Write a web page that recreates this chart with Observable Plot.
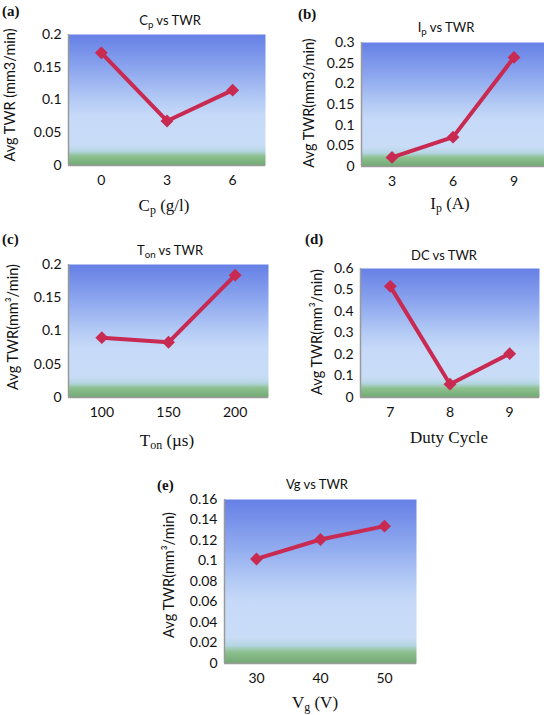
<!DOCTYPE html>
<html>
<head>
<meta charset="utf-8">
<script src="https://cdn.jsdelivr.net/npm/d3@7"></script>
<script src="https://cdn.jsdelivr.net/npm/@observablehq/plot@0.6"></script>
<style>
  html, body { margin: 0; padding: 0; background: #fff; }
  #page { position: relative; width: 544px; height: 715px; overflow: hidden; }
  .panel { position: absolute; }
  .txt { position: absolute; white-space: nowrap; transform: translate(-50%, -50%); color: #111; line-height: 1; }
  .sans { font-family: Lato, "Open Sans", sans-serif; }
  .serif { font-family: "Liberation Serif", "DejaVu Serif", serif; }
  .title { font-size: 13px; }
  .ylab { font-size: 14.5px; transform: translate(-50%, -50%) rotate(-90deg); }
  .xlab { font-size: 17px; }
  .letter { font-size: 15px; font-weight: bold; transform: none; }
  sub { font-size: 0.7em; vertical-align: -0.3em; line-height: 0; }
  .sans sub { font-size: 0.75em; vertical-align: -0.35em; }
</style>
</head>
<body>
<div id="page"></div>
<script>
// ---------- data ----------
const cpCats = ["0", "3", "6"];
const cpVals = [0.172, 0.068, 0.115];
const cpTicks = [0, 0.05, 0.1, 0.15, 0.2];

const ipCats = ["3", "6", "9"];
const ipVals = [0.022, 0.071, 0.264];
const ipTicks = [0, 0.05, 0.1, 0.15, 0.2, 0.25, 0.3];

const tonCats = ["100", "150", "200"];
const tonVals = [0.090, 0.083, 0.184];
const tonTicks = [0, 0.05, 0.1, 0.15, 0.2];

const dcCats = ["7", "8", "9"];
const dcVals = [0.517, 0.062, 0.204];
const dcTicks = [0, 0.1, 0.2, 0.3, 0.4, 0.5, 0.6];

const vgCats = ["30", "40", "50"];
const vgVals = [0.102, 0.121, 0.134];
const vgTicks = [0, 0.02, 0.04, 0.06, 0.08, 0.1, 0.12, 0.14, 0.16];

// ---------- layout (page pixel boxes) ----------
const panels = [
  {id: "a", cats: cpCats, vals: cpVals, ticks: cpTicks,
   box: [0, 0, 272, 230], plot: [68, 265, 34, 165],
   letter: "(a)", letterPos: [2, 4],
   title: "C<sub>p</sub> vs TWR", titlePos: [170, 20],
   ylab: "Avg TWR (mm3/min)", ylabPos: [10, 95],
   xlab: "C<sub>p</sub> (g/l)", xlabPos: [164, 205]},
  {id: "b", cats: ipCats, vals: ipVals, ticks: ipTicks,
   box: [272, 0, 272, 230], plot: [361, 544, 42, 166],
   letter: "(b)", letterPos: [298, 7],
   title: "I<sub>p</sub> vs TWR", titlePos: [446, 27],
   ylab: "Avg TWR(mm3/min)", ylabPos: [309, 103],
   xlab: "I<sub>p</sub> (A)", xlabPos: [450, 203]},
  {id: "c", cats: tonCats, vals: tonVals, ticks: tonTicks,
   box: [0, 230, 272, 230], plot: [68, 268, 264, 397],
   letter: "(c)", letterPos: [2, 232],
   title: "T<sub>on</sub> vs TWR", titlePos: [170, 250],
   ylab: "Avg TWR(mm³/min)", ylabPos: [13, 327],
   xlab: "T<sub>on</sub> (µs)", xlabPos: [167, 440]},
  {id: "d", cats: dcCats, vals: dcVals, ticks: dcTicks,
   box: [272, 230, 272, 230], plot: [360, 539, 268, 397],
   letter: "(d)", letterPos: [305, 232],
   title: "DC vs TWR", titlePos: [444, 255],
   ylab: "Avg TWR(mm³/min)", ylabPos: [317, 332],
   xlab: "Duty Cycle", xlabPos: [449, 437]},
  {id: "e", cats: vgCats, vals: vgVals, ticks: vgTicks,
   box: [130, 470, 300, 245], plot: [224, 416, 499, 663],
   letter: "(e)", letterPos: [157, 478],
   title: "Vg vs TWR", titlePos: [317, 484],
   ylab: "Avg TWR(mm³/min)", ylabPos: [169, 575],
   xlab: "V<sub>g</sub> (V)", xlabPos: [315, 702]}
];

const RED = "#c82a52";
const page = document.getElementById("page");
const fmt = d3.format("~g");

function addText(cls, html, pos) {
  const d = document.createElement("div");
  d.className = "txt " + cls;
  d.innerHTML = html;
  d.style.left = pos[0] + "px";
  d.style.top = pos[1] + "px";
  page.appendChild(d);
}

for (const p of panels) {
  const [bx, by, bw, bh] = p.box;
  const [x1, x2, y1, y2] = p.plot;
  const data = p.vals.map((v, i) => ({i, v}));
  const ymax = p.ticks[p.ticks.length - 1];

  const svg = Plot.plot({
    width: bw,
    height: bh,
    marginLeft: x1 - bx,
    marginRight: bx + bw - x2,
    marginTop: y1 - by,
    marginBottom: by + bh - y2,
    style: {fontFamily: "Lato, 'Open Sans', sans-serif", fontSize: "14px", color: "#111", background: "transparent"},
    x: {domain: [-0.5, p.cats.length - 0.5], ticks: p.cats.map((c, i) => i),
        tickFormat: i => p.cats[i], tickSize: 0, tickPadding: 10, label: null},
    y: {domain: [0, ymax], ticks: p.ticks, tickFormat: fmt, tickSize: 0, tickPadding: 7, label: null},
    marks: [
      Plot.frame({fill: "#c8daf8", stroke: "none"}),
      Plot.ruleY([0], {stroke: "#9a9a9a", strokeWidth: 1.5}),
      Plot.ruleX([-0.5], {stroke: "#9a9a9a", strokeWidth: 1.5}),
      Plot.line(data, {x: "i", y: "v", stroke: RED, strokeWidth: 4}),
      Plot.dot(data, {x: "i", y: "v", symbol: "diamond2", r: 5.8, fill: RED, stroke: "none"})
    ]
  });

  // gradient background for the plot frame
  const ns = "http://www.w3.org/2000/svg";
  const defs = document.createElementNS(ns, "defs");
  const gid = "bg-" + p.id;
  defs.innerHTML =
    `<linearGradient id="${gid}" x1="0" y1="0" x2="0" y2="1">
       <stop offset="0" stop-color="#6680e6"/>
       <stop offset="0.25" stop-color="#8aa4ee"/>
       <stop offset="0.5" stop-color="#b4cbf5"/>
       <stop offset="0.62" stop-color="#c6d9f8"/>
       <stop offset="0.84" stop-color="#c9dcf7"/>
       <stop offset="0.89" stop-color="#b5d6e2"/>
       <stop offset="0.93" stop-color="#8cc08e"/>
       <stop offset="1" stop-color="#72a874"/>
     </linearGradient>`;
  svg.insertBefore(defs, svg.firstChild);
  let fr = svg.querySelector('[aria-label="frame"]');
  if (fr && fr.tagName.toLowerCase() !== "rect") fr = fr.querySelector("rect");
  if (fr) { fr.setAttribute("fill", `url(#${gid})`); fr.style.fill = `url(#${gid})`; }

  const holder = document.createElement("div");
  holder.className = "panel";
  holder.style.left = bx + "px";
  holder.style.top = by + "px";
  holder.appendChild(svg);
  page.appendChild(holder);

  addText("sans title", p.title, p.titlePos);
  addText("sans ylab", p.ylab, p.ylabPos);
  addText("serif xlab", p.xlab, p.xlabPos);
  addText("serif letter", p.letter, p.letterPos);
}
</script>
</body>
</html>
